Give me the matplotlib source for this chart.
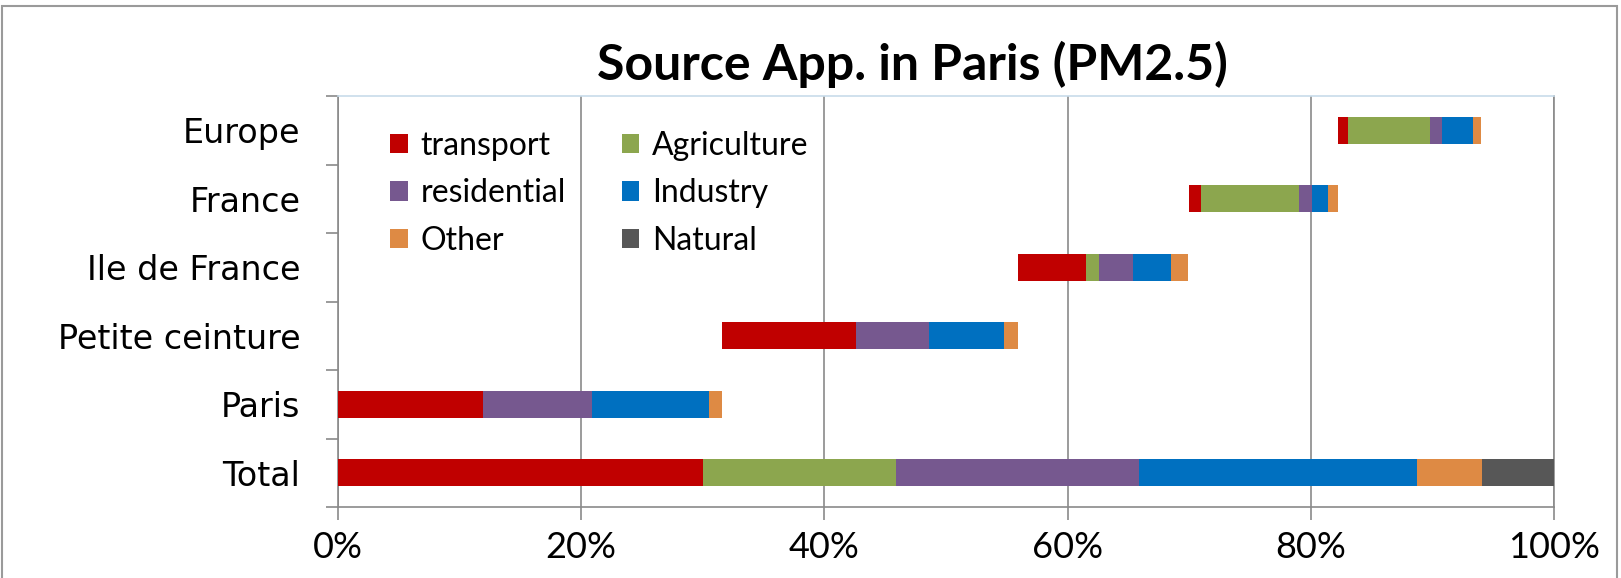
import numpy as np
import matplotlib
matplotlib.use('Agg')
from matplotlib import pyplot as plt
from matplotlib.patches import Rectangle
from matplotlib.ticker import FuncFormatter

# 数据（按图从下往上）
categories = ['Total', 'Paris', 'Petite ceinture', 'Ile de France', 'France', 'Europe']
start = [0.0, 0.0, 31.6, 55.9, 70.0, 82.2]   # 每条的起点（%）
transport = [30.0, 11.9, 11.0, 5.6, 1.0, 0.9]
agriculture = [15.85, 0.0, 0.0, 1.1, 8.0, 6.7]
residential = [20.05, 9.0, 6.0, 2.8, 1.1, 1.0]
industry = [22.8, 9.6, 6.2, 3.1, 1.3, 2.5]
other = [5.4, 1.1, 1.1, 1.4, 0.8, 0.7]
natural = [5.9, 0.0, 0.0, 0.0, 0.0, 0.0]

series = [('transport', transport, '#C00000'),
          ('Agriculture', agriculture, '#8CA64E'),
          ('residential', residential, '#76588F'),
          ('Industry', industry, '#0070C0'),
          ('Other', other, '#DE8A44'),
          ('Natural', natural, '#575757')]

fig = plt.figure(figsize=(16.21, 5.78), dpi=100)
ax = fig.add_axes([338/1621, 1-507/578, (1554-338)/1621, (507-96)/578])

y = np.arange(len(categories))
left = np.array(start, dtype=float)
bars = {}
for name, vals, col in series:
    vals = np.array(vals)
    bars[name] = ax.barh(y, vals, left=left, height=0.4, color=col, label=name, zorder=3)
    left = left + vals

ax.set_xlim(0, 100)
ax.set_ylim(-0.5, len(categories) - 0.5)
ax.set_xticks(np.arange(0, 101, 20))
ax.xaxis.set_major_formatter(FuncFormatter(lambda v, p: '%d%%' % v))
ax.grid(axis='x', color='#8a8a8a', linewidth=1.2, zorder=0)

ax.set_yticks(y)
ax.set_yticklabels(categories, fontsize=24, family='DejaVu Sans')
ax.set_yticks(np.arange(-0.5, len(categories), 1), minor=True)
ax.tick_params(axis='y', which='major', length=0, pad=27)
ax.tick_params(axis='y', which='minor', length=9, width=1.2, color='#8a8a8a', direction='out')
ax.tick_params(axis='x', length=9, width=1.2, color='#8a8a8a', direction='out', pad=8)
for lb in ax.get_xticklabels():
    lb.set_family('Lato')
    lb.set_fontsize(26)

for s in ['left', 'bottom', 'right']:
    ax.spines[s].set_color('#8a8a8a')
    ax.spines[s].set_linewidth(1.2)
ax.spines['top'].set_color('#c8dcea')
ax.spines['top'].set_linewidth(1.2)

# 图例：按行排列（Excel 风格），matplotlib 按列填充，所以重新排序
order = ['transport', 'residential', 'Other', 'Agriculture', 'Industry', 'Natural']
ax.legend([bars[n] for n in order], order, loc='upper left', bbox_to_anchor=(0.027, 0.962),
          ncol=2, frameon=False, prop={'family': 'Lato', 'size': 23},
          handlelength=0.55, handleheight=0.55, handletextpad=0.4,
          columnspacing=1.75, labelspacing=0.55, borderaxespad=0.2)

# 标题
fig.text(883*1621/1568/1621, 1-64/578, 'Source App. in Paris (PM2.5)', ha='center', va='center',
         fontsize=36, fontweight='bold', family='Lato')

# 外框
fig.patches.append(Rectangle((2/1621, -0.1), 1615/1621, 1.1 - 6/578, transform=fig.transFigure,
                             fill=False, edgecolor='#9a9a9a', linewidth=1.5))

plt.savefig('out.png', dpi=100)
